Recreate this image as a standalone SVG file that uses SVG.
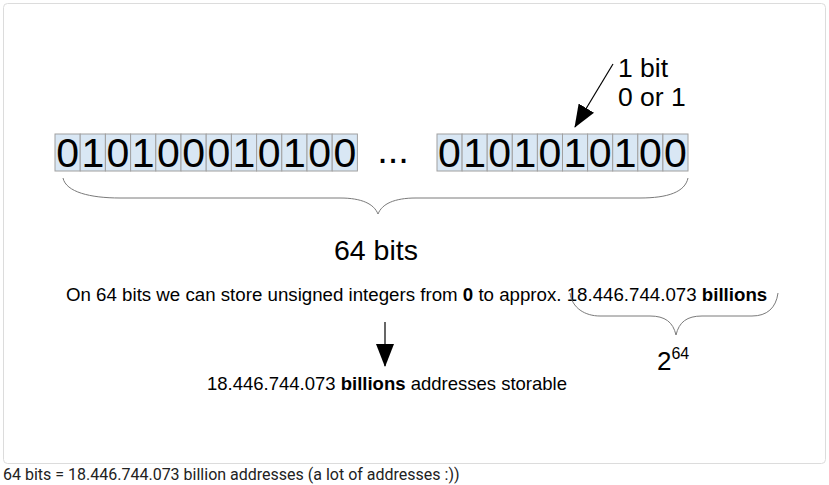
<svg xmlns="http://www.w3.org/2000/svg" width="829" height="485" viewBox="0 0 829 485">
<style>
.cell{fill:#d9e7f4;stroke:#a0a0a0;stroke-width:1}
.dig{font-family:"Liberation Sans",Arial,sans-serif;font-size:41px;fill:#000;text-anchor:middle}
.t{font-family:"Liberation Sans",Arial,sans-serif;fill:#000}
.brace{fill:none;stroke:#7a7a7a;stroke-width:1}
.ln{stroke:#000;stroke-width:1.2;fill:none}
</style>
<defs>
<marker id="ah" markerWidth="23" markerHeight="18" refX="22" refY="9" orient="auto" markerUnits="userSpaceOnUse" viewBox="0 0 23 18">
<path d="M0,0 L23,9 L0,18 Z" fill="#000"/>
</marker>
</defs>
<rect x="3.5" y="3.5" width="822" height="460" rx="4" fill="#fff" stroke="#dcdcdc"/>
<g id="bits-left">
<rect class="cell" x="55" y="134" width="25.2" height="37"/>
<rect class="cell" x="80.2" y="134" width="25.2" height="37"/>
<rect class="cell" x="105.4" y="134" width="25.2" height="37"/>
<rect class="cell" x="130.6" y="134" width="25.2" height="37"/>
<rect class="cell" x="155.8" y="134" width="25.2" height="37"/>
<rect class="cell" x="181" y="134" width="25.2" height="37"/>
<rect class="cell" x="206.2" y="134" width="25.2" height="37"/>
<rect class="cell" x="231.4" y="134" width="25.2" height="37"/>
<rect class="cell" x="256.6" y="134" width="25.2" height="37"/>
<rect class="cell" x="281.8" y="134" width="25.2" height="37"/>
<rect class="cell" x="307" y="134" width="25.2" height="37"/>
<rect class="cell" x="332.2" y="134" width="25.2" height="37"/>
<text class="dig" y="167"><tspan x="67.6">0</tspan><tspan x="92.8">1</tspan><tspan x="118">0</tspan><tspan x="143.2">1</tspan><tspan x="168.4">0</tspan><tspan x="193.6">0</tspan><tspan x="218.8">0</tspan><tspan x="244">1</tspan><tspan x="269.2">0</tspan><tspan x="294.4">1</tspan><tspan x="319.6">0</tspan><tspan x="344.8">0</tspan></text>
</g>
<g id="ellipsis">
<text class="t" x="393" y="163" font-size="38" text-anchor="middle">...</text>
</g>
<g id="bits-right">
<rect class="cell" x="437" y="134" width="25.1" height="37"/>
<rect class="cell" x="462.1" y="134" width="25.1" height="37"/>
<rect class="cell" x="487.2" y="134" width="25.1" height="37"/>
<rect class="cell" x="512.3" y="134" width="25.1" height="37"/>
<rect class="cell" x="537.4" y="134" width="25.1" height="37"/>
<rect class="cell" x="562.5" y="134" width="25.1" height="37"/>
<rect class="cell" x="587.6" y="134" width="25.1" height="37"/>
<rect class="cell" x="612.7" y="134" width="25.1" height="37"/>
<rect class="cell" x="637.8" y="134" width="25.1" height="37"/>
<rect class="cell" x="662.9" y="134" width="25.1" height="37"/>
<text class="dig" y="167"><tspan x="449.5">0</tspan><tspan x="474.6">1</tspan><tspan x="499.7">0</tspan><tspan x="524.8">1</tspan><tspan x="549.9">0</tspan><tspan x="575">1</tspan><tspan x="600.1">0</tspan><tspan x="625.2">1</tspan><tspan x="650.3">0</tspan><tspan x="675.4">0</tspan></text>
</g>
<g id="label-1bit">
<text class="t" x="618" y="77" font-size="26.5">1 bit</text>
<text class="t" x="618" y="106" font-size="26.5">0 or 1</text>
</g>
<g id="label-64bits">
<text class="t" x="376" y="260" font-size="28.5" text-anchor="middle">64 bits</text>
</g>
<g id="sentence">
<text class="t" x="66" y="301" font-size="18.7">On 64 bits we can store unsigned integers from <tspan font-weight="bold">0</tspan> to approx. 18.446.744.073 <tspan font-weight="bold">billions</tspan></text>
</g>
<g id="label-pow">
<text class="t" x="657" y="370" font-size="26">2<tspan font-size="16" dy="-11">64</tspan></text>
</g>
<g id="result">
<text class="t" x="207" y="390" font-size="18.5">18.446.744.073 <tspan font-weight="bold">billions</tspan> addresses storable</text>
</g>
<g id="connectors">
<line class="ln" x1="613" y1="64" x2="575" y2="127" marker-end="url(#ah)"/>
<path class="brace" d="M63,178 C66,192 90,198 120,198 L340,198 C362,198 374,204 378,214 C382,204 394,198 416,198 L640,198 C668,198 685,192 688,178"/>
<path class="brace" d="M570,293 C572,308 585,316 600,316 L650,316 C665,316 673,322 676,335 C679,322 687,316 702,316 L752,316 C767,316 776,308 778,293"/>
<line class="ln" x1="385" y1="322" x2="385" y2="366" marker-end="url(#ah)"/>
</g>
<g id="caption">
<text x="3" y="480" font-family="Roboto,sans-serif" font-size="16" fill="#222">64 bits = 18.446.744.073 billion addresses (a lot of addresses :))</text>
</g>
</svg>
